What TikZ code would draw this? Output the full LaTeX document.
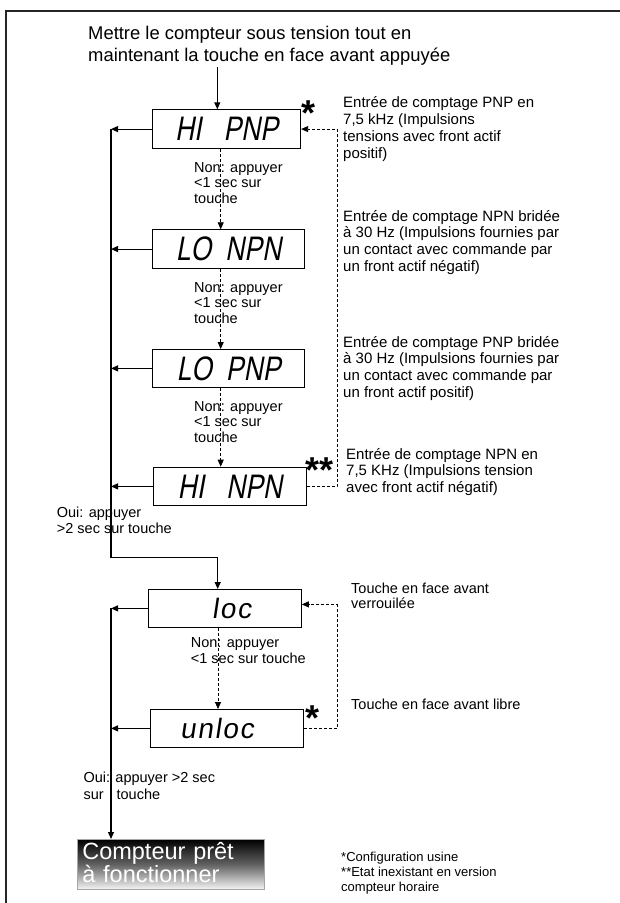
\documentclass[tikz,border=0pt]{standalone}
\usepackage{fontspec}
\setmainfont{Liberation Sans}
\newfontfamily\segfont[FakeStretch=0.78,FakeSlant=0.18]{Liberation Sans}
\newfontfamily\segfontl[FakeSlant=0.15,LetterSpace=6]{Liberation Sans}
\usetikzlibrary{arrows.meta}
\newcommand\fsz[2]{\fontsize{#1}{#2}\selectfont}
\begin{document}
\begin{tikzpicture}[x=1pt,y=-1pt,
  disp/.style={draw, line width=1.1pt, anchor=north west, inner sep=0pt},
  seg/.style={font=\segfont\fontsize{34}{34}\selectfont},
  segl/.style={font=\segfontl\fontsize{28}{28}\selectfont},
  lbl/.style={anchor=north west, inner sep=0pt, align=left},
  txt/.style={lbl, font=\fsz{15}{16.8}},
  nonl/.style={lbl, font=\fsz{14.5}{15.7}},
  arr/.style={line width=1.1pt, -{Triangle[length=7pt,width=6pt]}},
  dsh/.style={line width=0.8pt, dash pattern=on 3pt off 2pt, -{Triangle[length=7pt,width=6pt]}},
  starn/.style={font=\bfseries\fsz{36}{36}, inner sep=0pt, anchor=base},
]
\useasboundingbox (0,0) rectangle (619,903);
\draw[line width=1.2pt, black!85] (6,904) -- (6,11) -- (620,11);

% title
\node[lbl, font=\fsz{18.4}{21.5}] (title) at (88,24.45)
  {\strut Mettre le compteur sous tension tout en\\maintenant la touche en face avant appuyée};

% displays
\node[disp, seg, minimum width=148pt, minimum height=38.5pt] (hipnp) at (152,109.3) {HI\hspace{22pt}PNP};
\node[disp, seg, minimum width=152pt, minimum height=38.4pt] (lonpn) at (152,229.3) {LO\hspace{14pt}NPN};
\node[disp, seg, minimum width=152pt, minimum height=37.7pt] (lopnp) at (152,349) {LO\hspace{14pt}PNP};
\node[disp, seg, minimum width=152.7pt, minimum height=38.3pt] (hinpn) at (153,466.7) {HI\hspace{22pt}NPN};
\node[disp, segl, minimum width=152.4pt, minimum height=37.7pt] (loc) at (148.3,589) {\hspace*{13pt}loc};
\node[disp, segl, minimum width=152.7pt, minimum height=37.7pt] (unloc) at (150,709) {unloc\hspace*{20pt}};

% final box
\node[draw=gray!70, line width=0.6pt, top color=black, bottom color=gray!8, middle color=black!62,
  anchor=north west, minimum height=50pt, text width=177pt, inner xsep=5pt, inner ysep=0pt,
  align=left, text=white, font={\fsz{23.5}{23}}] (comp) at (77,839)
  {\rule{0pt}{17.5pt}Compteur prêt\\à fonctionner\rule[-4.5pt]{0pt}{4.5pt}};

% stars
\node[starn] (s1) at (308.5,125) {*};
\node[starn] (s2) at (320,482) {**};
\node[starn] (s3) at (312.5,730) {*};

% labels
\node[nonl] (n1) at (194,161) {\strut Non: appuyer\\<1 sec sur\\touche};
\node[nonl] (n2) at (194,281) {\strut Non: appuyer\\<1 sec sur\\touche};
\node[nonl] (n3) at (194,400) {\strut Non: appuyer\\<1 sec sur\\touche};
\node[lbl, font=\fsz{14.5}{16.5}] (n4) at (190.7,635.5) {\strut Non: appuyer\\<1 sec sur touche};
\node[lbl, font=\fsz{14.5}{16}] (o1) at (56.7,506.1) {\strut Oui: appuyer\\>2 sec sur touche};
\node[lbl, font=\fsz{14.5}{16.3}] (o2) at (83.3,771.3) {\strut Oui: appuyer >2 sec\\sur\hspace{13pt}touche};

\node[txt] (t1) at (343,95.7) {\strut Entrée de comptage PNP en\\7,5 kHz (Impulsions\\tensions avec front actif\\positif)};
\node[txt] (t2) at (343,209.2) {\strut Entrée de comptage NPN bridée\\à 30 Hz (Impulsions fournies par\\un contact avec commande par\\un front actif négatif)};
\node[txt] (t3) at (343,335.2) {\strut Entrée de comptage PNP bridée\\à 30 Hz (Impulsions fournies par\\un contact avec commande par\\un front actif positif)};
\node[txt] (t4) at (346,447.2) {\strut Entrée de comptage NPN en\\7,5 KHz (Impulsions tension\\avec front actif négatif)};
\node[lbl, font=\fsz{14.5}{15.3}] (t5) at (351,582.6) {\strut Touche en face avant\\verrouilée};
\node[lbl, font=\fsz{14.5}{15.3}] (t6) at (351,698.3) {\strut Touche en face avant libre};
\node[lbl, font=\fsz{13}{15}] (foot) at (341,850.5) {\strut *Configuration usine\\**Etat inexistant en version\\compteur horaire};

% coordinates
\coordinate (bus) at (111,0);
\coordinate (tin) at (217.3,67);
\coordinate (turn) at (111,557.7);
\coordinate (locin) at (217.7,557.7);
\coordinate (dx) at (220.7,0);
\coordinate (dxb) at (218,0);
\coordinate (rx) at (337,0);
\coordinate (locr) at ([yshift=4pt]loc.east);

% solid connectors
\draw[arr] (tin) -- (tin |- hipnp.north);
\foreach \n in {hipnp,lonpn,lopnp,hinpn,loc,unloc}
  \draw[arr] (\n.west) -- (\n.west -| bus);
\draw[arr] (hipnp.west -| bus) -- (turn) -- (locin) -- (locin |- loc.north);
\draw[arr] (loc.west -| bus) -- (bus |- comp.north);

% dashed connectors
\draw[dsh] (hipnp.south -| dx) -- (lonpn.north -| dx);
\draw[dsh] (lonpn.south -| dx) -- (lopnp.north -| dx);
\draw[dsh] (lopnp.south -| dx) -- (hinpn.north -| dx);
\draw[dsh] (loc.south -| dxb) -- (unloc.north -| dxb);
\draw[dsh] (hinpn.east) -- (hinpn.east -| rx) -- (rx |- hipnp.east) -- (hipnp.east);
\draw[dsh] (unloc.east) -- (unloc.east -| rx) -- (rx |- locr) -- (locr);
\end{tikzpicture}
\end{document}
